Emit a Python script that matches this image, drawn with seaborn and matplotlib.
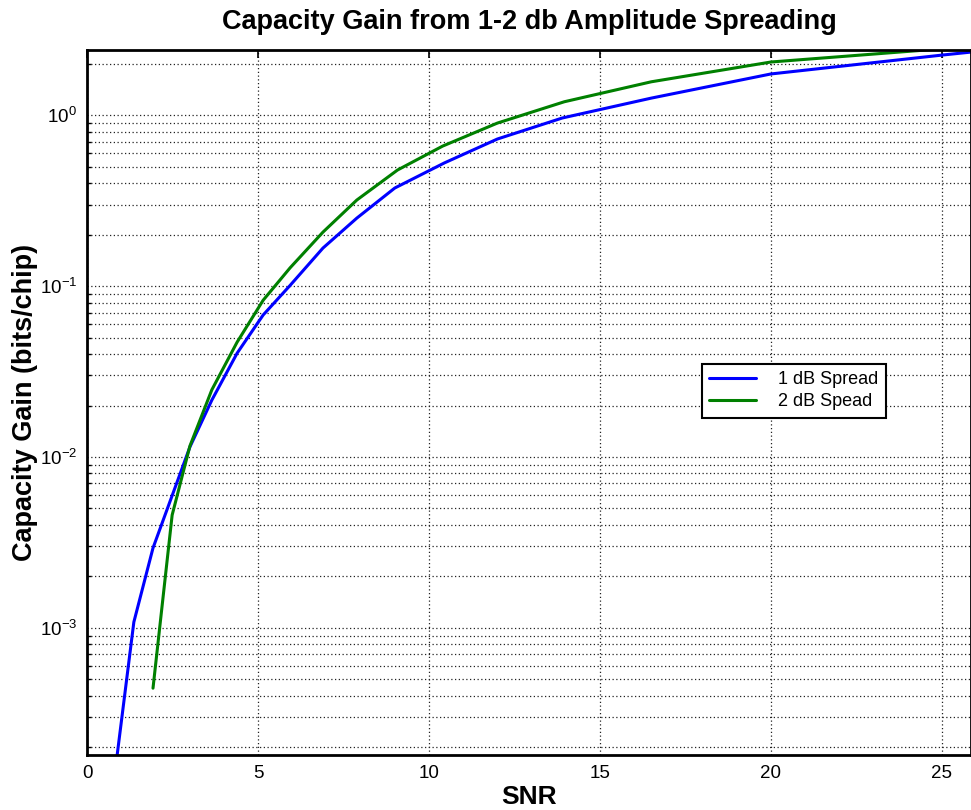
import numpy as np
import pandas as pd
import matplotlib
matplotlib.use("Agg")
import matplotlib.pyplot as plt
import seaborn as sns
from matplotlib.ticker import LogLocator, NullFormatter

# ---- data ----
snr_1db = [0.85, 1.37, 1.93, 3.01, 3.65, 4.39, 5.15, 5.94, 6.90, 7.89, 9.00, 10.45, 12.0, 13.9, 16.5, 20.0, 25.0, 26.0]
gain_1db = [1.6e-4, 1.08e-3, 2.93e-3, 1.145e-2, 2.15e-2, 4.05e-2, 6.77e-2, 0.101, 0.167, 0.25, 0.375, 0.526, 0.726, 0.964, 1.26, 1.745, 2.25, 2.36]

snr_2db = [1.93, 2.49, 3.01, 3.65, 4.39, 5.15, 5.94, 6.90, 7.89, 9.08, 10.4, 12.0, 13.96, 16.5, 20.0, 25.0]
gain_2db = [4.43e-4, 4.57e-3, 1.16e-2, 2.47e-2, 4.7e-2, 8.26e-2, 0.128, 0.207, 0.319, 0.478, 0.66, 0.90, 1.20, 1.57, 2.05, 2.45]

series_names = ["1 dB Spread", "2 dB Spead"]
title = "Capacity Gain from 1-2 db Amplitude Spreading"
xlabel = "SNR"
ylabel = "Capacity Gain (bits/chip)"

df = pd.concat([
    pd.DataFrame({"SNR": snr_1db, "gain": gain_1db, "series": series_names[0]}),
    pd.DataFrame({"SNR": snr_2db, "gain": gain_2db, "series": series_names[1]}),
], ignore_index=True)

sns.set_theme(style="white")
plt.rcParams["font.family"] = ["Liberation Sans", "DejaVu Sans"]
plt.rcParams["mathtext.fontset"] = "custom"
plt.rcParams["mathtext.rm"] = "Liberation Sans"
plt.rcParams["mathtext.it"] = "Liberation Sans:italic"
plt.rcParams["mathtext.bf"] = "Liberation Sans:bold"
plt.rcParams["text.color"] = "black"
plt.rcParams["axes.labelcolor"] = "black"
plt.rcParams["xtick.color"] = "black"
plt.rcParams["ytick.color"] = "black"

fig = plt.figure(figsize=(9.71, 8.10), dpi=100)
ax = fig.add_axes([87 / 971, 1 - 755 / 810, 1 - 87 / 971, (755 - 50) / 810])

sns.lineplot(data=df, x="SNR", y="gain", hue="series", sort=False,
             palette={series_names[0]: "#0000ff", series_names[1]: "#008000"},
             linewidth=2.2, ax=ax, estimator=None)

ax.set_yscale("log")
ax.set_xlim(0, 25.85)
ax.set_ylim(1.8e-4, 2.41)

ax.set_xticks([0, 5, 10, 15, 20, 25])
ax.yaxis.set_major_locator(LogLocator(base=10, numticks=10))
ax.yaxis.set_minor_locator(LogLocator(base=10, subs=np.arange(2, 10), numticks=20))
ax.yaxis.set_minor_formatter(NullFormatter())

ax.grid(True, which="major", axis="both", linestyle=(0, (1, 2)), color="#222222", linewidth=0.9)
ax.grid(True, which="minor", axis="y", linestyle=(0, (1, 2)), color="#222222", linewidth=0.9)

ax.tick_params(axis="both", which="major", direction="in", length=6, width=1.2,
               labelsize=13.5, colors="black", top=True, right=False, pad=7)
ax.tick_params(axis="y", which="minor", direction="in", length=3, width=1, left=True, right=False)

for sp in ax.spines.values():
    sp.set_color("black")
    sp.set_linewidth(2)

ax.set_title(title, fontsize=19.5, fontweight="bold", pad=15, color="black")
ax.set_xlabel(xlabel, fontsize=19, fontweight="bold", labelpad=2)
ax.set_ylabel(ylabel, fontsize=19.5, fontweight="bold")
ax.yaxis.set_label_coords(-0.0554, 0.5)

leg = ax.legend(loc="upper left", bbox_to_anchor=(0.696, 0.555), fontsize=13,
                frameon=True, fancybox=False, edgecolor="black", framealpha=1,
                handlelength=2.6, borderpad=0.4, labelspacing=0.3, handletextpad=1.2,
                borderaxespad=0)
leg.get_frame().set_linewidth(1.5)

fig.savefig("out.png", dpi=100)
